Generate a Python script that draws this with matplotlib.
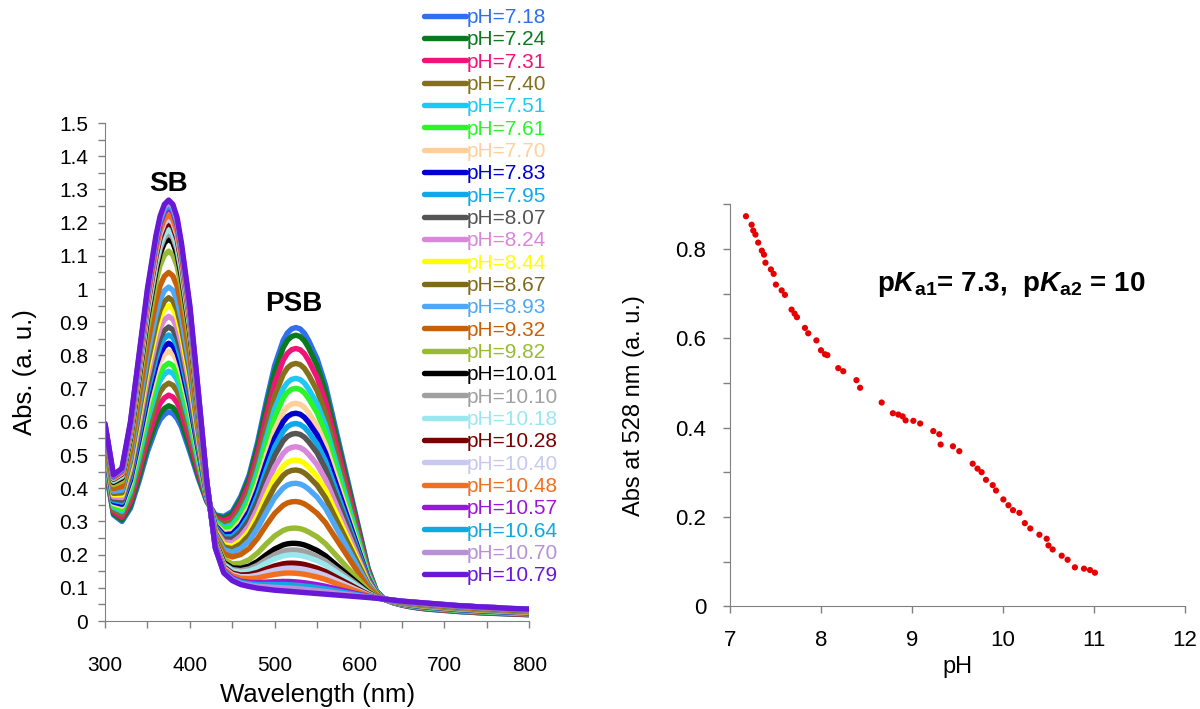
import numpy as np
import matplotlib
matplotlib.use('Agg')
import matplotlib.pyplot as plt
from matplotlib.ticker import MultipleLocator, FuncFormatter

plt.rcParams['font.family'] = ['Liberation Sans', 'DejaVu Sans']
plt.rcParams['mathtext.fontset'] = 'custom'
plt.rcParams['mathtext.rm'] = 'Liberation Sans:bold'
plt.rcParams['mathtext.bf'] = 'Liberation Sans:bold'
plt.rcParams['mathtext.bfit'] = 'Liberation Sans:bold:italic'

# ---- espectros (panel izquierdo) ----
wavelength = [300, 310, 320, 330, 340, 350, 360, 365, 370, 375, 380, 385, 390,
              400, 410, 420, 430, 440, 450, 460, 470, 480, 490, 500, 510, 515,
              520, 525, 530, 535, 540, 550, 560, 570, 580, 590, 600, 610, 620,
              630, 640, 650, 660, 670, 680, 690, 700, 710, 720, 730, 740, 750,
              760, 770, 780, 790, 800]

# espectro a pH 7.18 (casi todo base de Schiff protonada)
abs_acid = [0.47, 0.32, 0.30, 0.34, 0.42, 0.51, 0.58, 0.607, 0.622, 0.63, 0.625, 0.61, 0.585,
            0.51, 0.43, 0.36, 0.32, 0.315, 0.33, 0.375, 0.44, 0.54, 0.66,
            0.77, 0.845, 0.868, 0.88, 0.884, 0.88, 0.867, 0.845, 0.79, 0.71, 0.60, 0.49, 0.38,
            0.27, 0.16, 0.09, 0.065, 0.055, 0.048, 0.043, 0.039, 0.036, 0.034,
            0.032, 0.030, 0.028, 0.027, 0.025, 0.024, 0.023, 0.022, 0.021, 0.020,
            0.019]

# espectro a pH 10.79 (casi todo base de Schiff)
abs_base = [0.595, 0.44, 0.46, 0.60, 0.80, 1.00, 1.16, 1.22, 1.255, 1.268, 1.255, 1.215, 1.14,
            0.95, 0.69, 0.42, 0.22, 0.145, 0.122, 0.11, 0.104, 0.099, 0.096,
            0.093, 0.091, 0.090, 0.089, 0.088, 0.087, 0.086, 0.085, 0.083, 0.081, 0.079, 0.077, 0.075,
            0.073, 0.071, 0.069, 0.066, 0.063, 0.060, 0.058, 0.056, 0.054, 0.052,
            0.050, 0.048, 0.046, 0.045, 0.043, 0.042, 0.041, 0.039, 0.038, 0.037,
            0.036]

ph_labels = ['7.18', '7.24', '7.31', '7.40', '7.51', '7.61', '7.70', '7.83', '7.95',
             '8.07', '8.24', '8.44', '8.67', '8.93', '9.32', '9.82', '10.01', '10.10',
             '10.18', '10.28', '10.40', '10.48', '10.57', '10.64', '10.70', '10.79']

# altura del pico PSB de cada espectro
psb_peak = [0.884, 0.861, 0.821, 0.776, 0.731, 0.701, 0.656, 0.626, 0.595,
            0.565, 0.525, 0.485, 0.455, 0.415, 0.360, 0.280, 0.234, 0.214,
            0.199, 0.174, 0.159, 0.144, 0.118, 0.108, 0.098, 0.088]

colores = ['#2f6ff0', '#0a7a1f', '#f0147a', '#85701c', '#1ec8f5', '#2af52a',
           '#ffd09a', '#0000d0', '#10a8e8', '#555555', '#d987d9', '#ffff00',
           '#7f6a1a', '#4ea8f5', '#c8600a', '#99bb33', '#000000', '#a0a0a0',
           '#99e8f0', '#7a0000', '#c8c8f0', '#f07020', '#9918d8', '#10a8e0',
           '#b890d8', '#6a18d8']

# ---- titulación (panel derecho) ----
ph_titr = [7.176, 7.238, 7.256, 7.28, 7.31, 7.35, 7.374, 7.39, 7.45, 7.48,
           7.505, 7.568, 7.604, 7.677, 7.71, 7.736, 7.824, 7.86, 7.95, 8.0,
           8.044, 8.07, 8.19, 8.245, 8.39, 8.43, 8.667, 8.79, 8.85, 8.897,
           8.93, 9.015, 9.09, 9.234, 9.3, 9.315, 9.45, 9.52, 9.667, 9.72,
           9.765, 9.813, 9.887, 9.923, 10.004, 10.06, 10.11, 10.18, 10.24, 10.30,
           10.40, 10.48, 10.50, 10.546, 10.645, 10.71, 10.79, 10.89, 10.956, 11.01]
abs_528 = [0.873, 0.854, 0.841, 0.832, 0.814, 0.796, 0.787, 0.769, 0.754, 0.744,
           0.720, 0.707, 0.697, 0.664, 0.655, 0.647, 0.623, 0.611, 0.595, 0.573,
           0.564, 0.562, 0.533, 0.526, 0.506, 0.489, 0.456, 0.432, 0.429, 0.425,
           0.416, 0.415, 0.409, 0.392, 0.385, 0.362, 0.358, 0.347, 0.319, 0.308,
           0.300, 0.283, 0.271, 0.259, 0.239, 0.226, 0.215, 0.209, 0.186, 0.174,
           0.160, 0.151, 0.136, 0.127, 0.113, 0.104, 0.087, 0.084, 0.081, 0.075]

gris = '#808080'
fmt_g = FuncFormatter(lambda v, pos: '{:g}'.format(round(v, 2)))

fig = plt.figure(figsize=(12, 7.09), dpi=100)

# panel izquierdo: cada espectro como mezcla de las dos formas (pico PSB leído)
ax1 = fig.add_axes([0.0875, 0.124, 0.3535, 0.7025])
acid = np.array(abs_acid)
base = np.array(abs_base)
for etiqueta, pico, color in zip(ph_labels, psb_peak, colores):
    frac = (pico - psb_peak[-1]) / (psb_peak[0] - psb_peak[-1])
    espectro = frac * acid + (1 - frac) * base
    ax1.plot(wavelength, espectro, color=color, lw=3.9, label='pH=' + etiqueta,
             solid_capstyle='round', solid_joinstyle='round')

ax1.set_xlim(300, 800)
ax1.set_ylim(0, 1.5)
ax1.xaxis.set_major_locator(MultipleLocator(100))
ax1.xaxis.set_minor_locator(MultipleLocator(50))
ax1.yaxis.set_major_locator(MultipleLocator(0.1))
ax1.yaxis.set_minor_locator(MultipleLocator(0.05))
ax1.yaxis.set_major_formatter(fmt_g)
ax1.tick_params(which='both', direction='out', length=5, width=1, color=gris)
ax1.tick_params(axis='x', labelsize=15, pad=20)
ax1.tick_params(axis='y', labelsize=15, pad=7)
ax1.set_xlabel('Wavelength (nm)', fontsize=18.5, labelpad=6)
ax1.set_ylabel('Abs. (a. u.)', fontsize=18.5, labelpad=16)
for lado in ['top', 'right']:
    ax1.spines[lado].set_visible(False)
for lado in ['left', 'bottom']:
    ax1.spines[lado].set_color(gris)
ax1.text(375, 1.315, 'SB', fontsize=20, fontweight='bold', ha='center', va='center')
ax1.text(522, 0.955, 'PSB', fontsize=20, fontweight='bold', ha='center', va='center')

handles, labels = ax1.get_legend_handles_labels()
fig.legend(handles, labels, loc='upper left', bbox_to_anchor=(424 / 1200, 1 - 8 / 709),
           frameon=False, fontsize=15, handlelength=2.0, handletextpad=0.05,
           labelspacing=0.16, borderpad=0, borderaxespad=0, labelcolor='linecolor')

# panel derecho
ax2 = fig.add_axes([0.6083, 0.145, 0.3792, 0.567])
ax2.scatter(ph_titr, abs_528, s=20, color='#e60000', edgecolors='none')
ax2.set_xlim(7, 12)
ax2.set_ylim(0, 0.9)
ax2.xaxis.set_major_locator(MultipleLocator(1))
ax2.yaxis.set_major_locator(MultipleLocator(0.2))
ax2.yaxis.set_minor_locator(MultipleLocator(0.1))
ax2.yaxis.set_major_formatter(fmt_g)
ax2.tick_params(which='both', direction='out', length=5, width=1, color=gris)
ax2.tick_params(axis='x', labelsize=16, pad=12)
ax2.tick_params(axis='y', labelsize=16, pad=12)
ax2.set_xlabel('pH', fontsize=17, labelpad=4)
ax2.set_ylabel('Abs at 528 nm (a. u.)', fontsize=17, labelpad=22)
for lado in ['top', 'right']:
    ax2.spines[lado].set_visible(False)
for lado in ['left', 'bottom']:
    ax2.spines[lado].set_color(gris)
ax2.text(8.62, 0.72, r'p$\mathbfit{K}_{\mathbf{a1}}$= 7.3,  p$\mathbfit{K}_{\mathbf{a2}}$ = 10',
         fontsize=20, fontweight='bold', ha='left', va='center')

fig.savefig('out.png', dpi=100)
